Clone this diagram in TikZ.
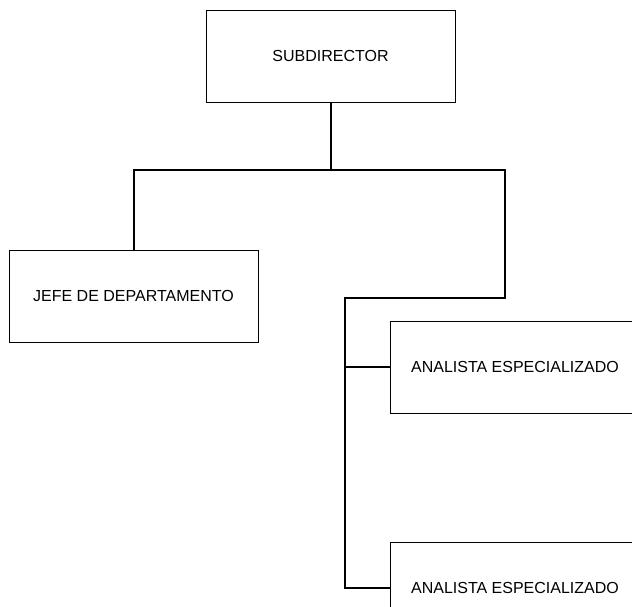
\documentclass[tikz,border=0pt]{standalone}
\usepackage{fontspec}
\setmainfont{Liberation Sans}
\usetikzlibrary{positioning}

\begin{document}
\begin{tikzpicture}[on grid,
  puesto/.style={draw,line width=0.8pt,minimum width=249pt,minimum height=92pt,inner sep=0pt,font=\fontsize{16}{18}\selectfont},
  enlace/.style={line width=2pt}]
\useasboundingbox (0,0) rectangle (632pt,-606pt);
\node[puesto]		(sub)					at (330.5pt,-56pt)				{SUBDIRECTOR};
\node[puesto]		(jefe)		[below left=240pt and 197pt of sub]		{JEFE DE DEPARTAMENTO};
\node[puesto,minimum width=250pt]	(ana1)	[below right=311pt and 184.5pt of sub]	{ANALISTA ESPECIALIZADO};
\node[puesto,minimum width=250pt]	(ana2)	[below=221pt of ana1]				{ANALISTA ESPECIALIZADO};
% puntos de quiebre
\path (sub.south) ++(0,-68pt) coordinate (split);
\coordinate		(turn)		at (505pt,-298pt);
\coordinate		(spine)		at (345pt,-298pt);
\draw[enlace] (sub.south) -- (split);
\draw[enlace] (jefe.north) |- (split) -| (turn) -- (spine) |- (ana2.west);
\draw[enlace] (spine |- ana1.west) -- (ana1.west);
\end{tikzpicture}
\end{document}
